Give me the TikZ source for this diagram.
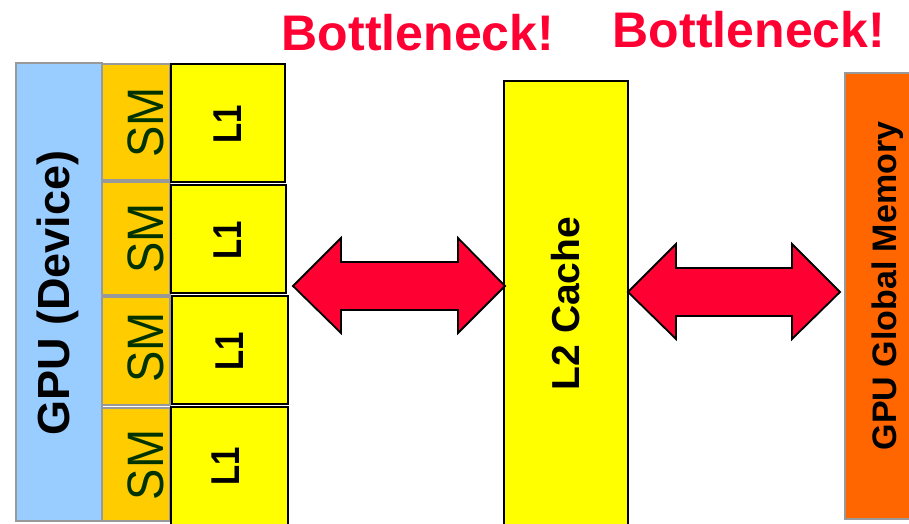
\documentclass[tikz,border=0pt]{standalone}
\usepackage{fontspec}
\setmainfont{Liberation Sans}
\definecolor{devblue}{HTML}{99CCFF}
\definecolor{smorange}{HTML}{FFCC00}
\definecolor{cacheyellow}{HTML}{FFFF00}
\definecolor{memorange}{HTML}{FF6600}
\definecolor{alertred}{HTML}{FF0033}
\definecolor{smgreen}{HTML}{003300}
\definecolor{edgegray}{HTML}{999999}
\begin{document}
\begin{tikzpicture}[x=1pt,y=-1pt,
  graybox/.style={draw=edgegray, line width=1.8pt},
  blackbox/.style={draw=black, line width=1.8pt, fill=cacheyellow},
  vlabel/.style={rotate=90, anchor=base, inner sep=0pt},
  fatarrow/.style={draw=black, line width=1.8pt, fill=alertred, line join=miter},
  alert/.style={anchor=base, inner sep=0pt, text=alertred, font=\bfseries\fontsize{50}{50}\selectfont}]
\useasboundingbox (0,0) rectangle (909,523);

% device frame
\draw[graybox, fill=devblue] (16,63) rectangle (102,521);
\node[vlabel, font=\bfseries\fontsize{45}{45}\selectfont] (gpu) at (69,293) {GPU (Device)};

% streaming multiprocessors
\draw[graybox, fill=smorange] (102,64) rectangle (170,180);
\draw[graybox, fill=smorange] (102,182) rectangle (170,295);
\draw[graybox, fill=smorange] (102,297) rectangle (170,405);
\draw[graybox, fill=smorange] (102,408) rectangle (170,521);
\foreach \y/\n in {122.5/1, 238.5/2, 347.5/3, 465/4}
  \node[vlabel, text=smgreen, font=\fontsize{47}{47}\selectfont] (sm\n) at (163,\y) {\scalebox{1}[1.09]{SM}};

% L1 caches
\draw[blackbox] (171,64) rectangle (285,182);
\draw[blackbox] (171,185) rectangle (286,293);
\draw[blackbox] (172,296) rectangle (288,404);
\draw[blackbox] (171,407) rectangle (288,525);
\foreach \x/\y/\n in {241/124/1, 241/240/2, 243/351/3, 239/466/4}
  \node[vlabel, font=\bfseries\fontsize{33}{33}\selectfont] (l1\n) at (\x,\y) {\scalebox{1}[1.22]{L1}};

% L2 cache
\draw[blackbox] (504,81) rectangle (628,526);
\node[vlabel, font=\bfseries\fontsize{39}{39}\selectfont] (l2) at (579,303.5) {L2 Cache};

% global memory
\draw[graybox, fill=memorange] (845,73) rectangle (912,519);
\node[vlabel, font=\bfseries\fontsize{34}{34}\selectfont] (gmem) at (896,286) {GPU Global Memory};

% bandwidth arrows
\draw[fatarrow] (293,286) -- (341,238) -- (341,262) -- (458,262) -- (458,238)
  -- (505,286) -- (458,333) -- (458,310) -- (341,310) -- (341,333) -- cycle;
\draw[fatarrow] (628,292) -- (676,244) -- (676,268) -- (792,268) -- (792,244)
  -- (840,292) -- (792,339) -- (792,316) -- (676,316) -- (676,339) -- cycle;

% labels
\node[alert] (neck1) at (418,50) {Bottleneck!};
\node[alert] (neck2) at (749,47) {Bottleneck!};
\end{tikzpicture}
\end{document}
